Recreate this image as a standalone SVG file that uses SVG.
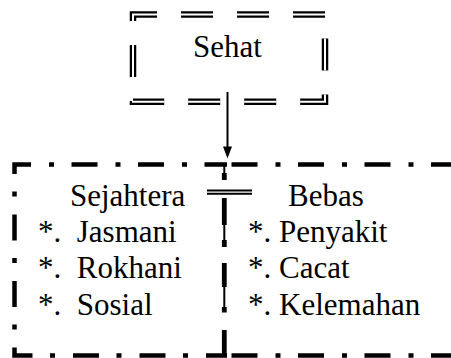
<svg xmlns="http://www.w3.org/2000/svg" width="451" height="358" viewBox="0 0 451 358">
<defs>
<path id="sehatBorder" d="M133,14.5H325V101.7H133Z"/>
</defs>
<rect width="451" height="358" fill="#fff"/>
<g id="sehat">
<g fill="none" stroke-dasharray="32 24" stroke-dashoffset="8">
<use href="#sehatBorder" stroke="#000" stroke-width="6.5"/>
<use href="#sehatBorder" stroke="#fff" stroke-width="2"/>
</g>
<text x="193" y="57" font-family="'Liberation Serif', 'Times New Roman', serif" font-size="31">Sehat</text>
</g>
<g id="sejahtera">
<path fill="none" stroke="#000" stroke-width="4.5" stroke-dasharray="26 18 5 17.5" stroke-dashoffset="5" d="M227,355.5H14.5V164.5H227"/>
<g font-family="'Liberation Serif', 'Times New Roman', serif" font-size="31">
<text x="70" y="206">Sejahtera</text>
<text x="38" y="242" xml:space="preserve">*.  Jasmani</text>
<text x="38" y="278" xml:space="preserve">*.  Rokhani</text>
<text x="38" y="315" xml:space="preserve">*.  Sosial</text>
</g>
</g>
<g id="bebas">
<path fill="none" stroke="#000" stroke-width="4.5" stroke-dasharray="26 18 5 17.5" stroke-dashoffset="62" d="M227,164.5H460M227,355.5H460"/>
<g font-family="'Liberation Serif', 'Times New Roman', serif" font-size="31">
<text x="288" y="206">Bebas</text>
<text x="248" y="242">*. Penyakit</text>
<text x="248" y="278">*. Cacat</text>
<text x="248" y="315">*. Kelemahan</text>
</g>
</g>
<g id="divider" fill="none" stroke="#000">
<path stroke-width="2" d="M224.3,166V173M224.3,225V240M224.3,287V307"/>
<path stroke-width="4.8" d="M224.3,173V180M224.3,198V225M224.3,240V247M224.3,263V287M224.3,307V312.5M224.3,330V357"/>
<path stroke-width="2" d="M207,190.5H252M207,193.7H252"/>
</g>
<g id="connectors">
<line x1="227.5" y1="92" x2="227.5" y2="148" stroke="#000" stroke-width="2"/>
<polygon points="223,146.5 232,146.5 227.5,158.5" fill="#000"/>
</g>
</svg>
